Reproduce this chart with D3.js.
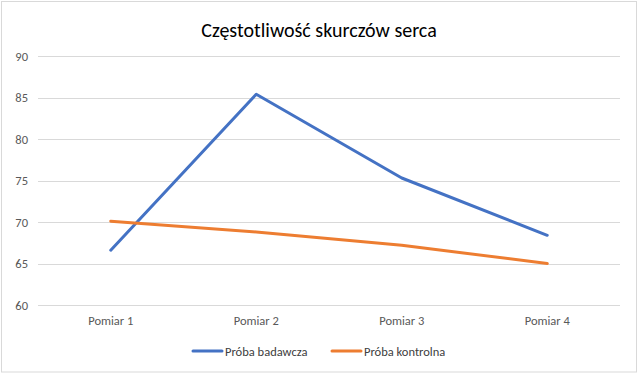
<!DOCTYPE html>
<html>
<head>
<meta charset="utf-8">
<script src="https://cdn.jsdelivr.net/npm/d3@7/dist/d3.min.js"></script>
<style>
  body { margin: 0; background: #fff; }
  text { font-family: Carlito, "Open Sans", "Noto Sans", sans-serif; }
</style>
</head>
<body>
<div id="chart"></div>
<script>
var categories = ['Pomiar 1', 'Pomiar 2', 'Pomiar 3', 'Pomiar 4'];
var badawcza = [66.6, 85.4, 75.3, 68.4];
var kontrolna = [70.1, 68.8, 67.2, 65.0];
var yTicks = [60, 65, 70, 75, 80, 85, 90];
var seriesNames = ['Próba badawcza', 'Próba kontrolna'];
var colors = ['#4472c4', '#ed7d31'];

var width = 640, height = 376;
var svg = d3.select('#chart').append('svg')
    .attr('width', width)
    .attr('height', height);

// ramka wykresu
svg.append('rect')
    .attr('x', 1.5).attr('y', 1.5)
    .attr('width', 635).attr('height', 370.5)
    .attr('fill', '#fff')
    .attr('stroke', '#d9d9d9');

// tytul
svg.append('text')
    .attr('x', 319).attr('y', 37)
    .attr('text-anchor', 'middle')
    .attr('font-size', 20)
    .attr('fill', '#000')
    .text('Częstotliwość skurczów serca');

var x = d3.scaleBand().domain(categories).range([38, 620]);
var y = d3.scaleLinear().domain([60, 90]).range([305, 56]);

// linie siatki
svg.append('g').selectAll('line')
    .data(yTicks)
    .enter().append('line')
    .attr('x1', 38).attr('x2', 620)
    .attr('y1', function(d) { return Math.round(y(d)) + 0.5; })
    .attr('y2', function(d) { return Math.round(y(d)) + 0.5; })
    .attr('stroke', '#d9d9d9')
    .attr('stroke-width', 1);

// os Y
var yAxis = d3.axisLeft(y).tickValues(yTicks).tickSize(0).tickPadding(10);
svg.append('g')
    .attr('transform', 'translate(38,0)')
    .call(yAxis)
    .call(function(g) { g.select('.domain').remove(); })
    .selectAll('text')
    .attr('font-size', 12.5)
    .attr('fill', '#595959')
    .style('font-family', 'Carlito, "Open Sans", "Noto Sans", sans-serif');

// os X
var xAxis = d3.axisBottom(x).tickSize(0).tickPadding(11);
svg.append('g')
    .attr('transform', 'translate(0,305)')
    .call(xAxis)
    .call(function(g) { g.select('.domain').remove(); })
    .selectAll('text')
    .attr('font-size', 12.5)
    .attr('fill', '#595959')
    .style('font-family', 'Carlito, "Open Sans", "Noto Sans", sans-serif');

var line = d3.line()
    .x(function(d, i) { return x(categories[i]) + x.bandwidth() / 2; })
    .y(function(d) { return y(d); });

[badawcza, kontrolna].forEach(function(s, i) {
    svg.append('path')
        .datum(s)
        .attr('d', line)
        .attr('fill', 'none')
        .attr('stroke', colors[i])
        .attr('stroke-width', 3)
        .attr('stroke-linejoin', 'round')
        .attr('stroke-linecap', 'round');
});

// legenda
var legendX = [193, 332];
var legend = svg.append('g').selectAll('g')
    .data(seriesNames)
    .enter().append('g')
    .attr('transform', function(d, i) { return 'translate(' + legendX[i] + ',351)'; });
legend.append('line')
    .attr('x1', 0).attr('x2', 29)
    .attr('stroke', function(d, i) { return colors[i]; })
    .attr('stroke-width', 3)
    .attr('stroke-linecap', 'round');
legend.append('text')
    .attr('x', 32).attr('y', 4.5)
    .attr('font-size', 12.5)
    .attr('fill', '#404040')
    .text(function(d) { return d; });
</script>
</body>
</html>
